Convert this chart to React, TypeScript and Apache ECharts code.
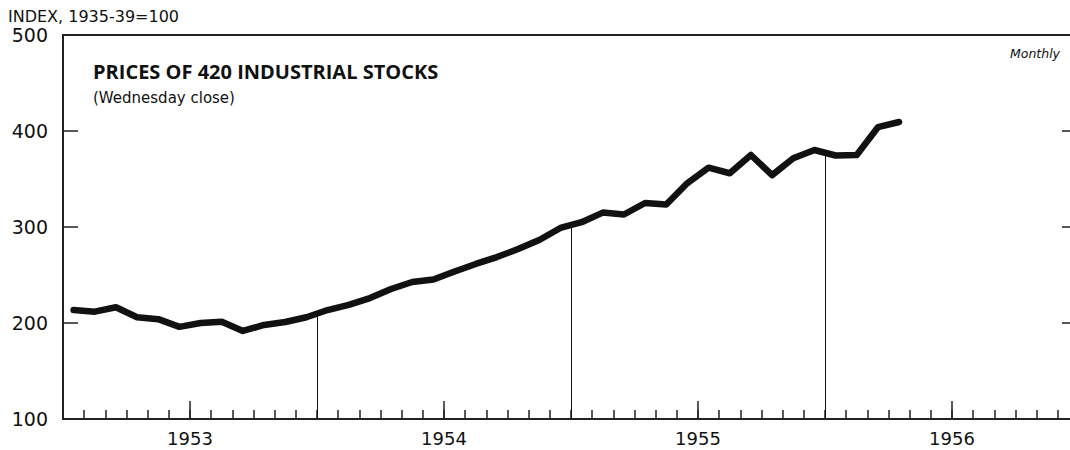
import React, { useEffect, useRef } from "react";
import * as echarts from "echarts";

// Monthly index values, Jan 1953 .. Apr 1956 (1935-39 = 100)
const startYear = 1953;
const values: number[] = [
  213.5, 211.8, 216.4, 206, 204, 196, 200, 201.4, 191.7, 198, 201, 206,
  213.5, 218.8, 226, 235.4, 242.7, 245.3, 253.6, 261.5, 268.7, 277, 286.5, 299,
  305, 315, 313, 325, 323.4, 345.8, 361.8, 356, 375, 354, 371.6, 380.2,
  374.5, 375, 404, 409.4,
];
const yTicks = [100, 200, 300, 400, 500];
const yearLabels = ["1953", "1954", "1955", "1956"];
const titleText = "PRICES OF 420 INDUSTRIAL STOCKS";
const subtitleText = "(Wednesday close)";
const unitText = "INDEX, 1935-39=100";
const freqText = "Monthly";

const FONT = "DejaVu Sans";

export default function App() {
  const ref = useRef<HTMLDivElement>(null);
  useEffect(() => {
    if (!ref.current) return;
    const chart = echarts.init(ref.current, null, { renderer: "svg" });
    const seriesData = values.map((v, i) => [i + 0.5, v]);
    // drop lines at year boundaries, from the axis up to the line
    const dropLines: any[] = [];
    for (let b = 12; b < values.length; b += 12) {
      const v = (values[b - 1] + values[b]) / 2;
      dropLines.push([{ coord: [b, yTicks[0]] }, { coord: [b, v] }]);
    }
    const nMonths = yearLabels.length * 12;
    const midYears = yearLabels.map((_, k) => k * 12 + 6);
    chart.setOption({
      animation: false,
      backgroundColor: "#ffffff",
      grid: {
        left: 63,
        width: 1016,
        top: 35,
        height: 384,
        outerBoundsMode: "none",
        containLabel: false,
        show: true,
        borderColor: "#222",
        borderWidth: 2,
        backgroundColor: "transparent",
      },
      xAxis: [
        {
          type: "value",
          min: 0,
          max: nMonths,
          interval: 1,
          axisLine: { show: true, onZero: false, lineStyle: { color: "#222", width: 2 } },
          axisTick: { show: true, inside: true, length: 9, lineStyle: { color: "#222", width: 1.5 } },
          axisLabel: { show: false },
          splitLine: { show: false },
        },
        {
          type: "value",
          min: 0,
          max: nMonths,
          position: "bottom",
          axisLine: { show: false, onZero: false },
          axisTick: {
            show: true,
            inside: true,
            length: 18,
            customValues: midYears,
            lineStyle: { color: "#222", width: 1.5 },
          },
          axisLabel: {
            show: true,
            customValues: midYears,
            formatter: (v: number) => String(startYear + Math.floor(v / 12)),
            fontFamily: FONT,
            fontSize: 18,
            color: "#111",
            margin: 10,
          },
          splitLine: { show: false },
        },
      ],
      yAxis: [
        {
          type: "value",
          min: 100,
          max: 500,
          interval: 100,
          position: "left",
          axisLine: { show: true, onZero: false, lineStyle: { color: "#222", width: 1.5 } },
          axisTick: { show: true, inside: true, length: 15, lineStyle: { color: "#222", width: 1.5 } },
          axisLabel: { show: true, fontFamily: FONT, fontSize: 19, color: "#111", margin: 15 },
          splitLine: { show: false },
        },
        {
          type: "value",
          min: 100,
          max: 500,
          interval: 100,
          position: "right",
          axisLine: { show: true, onZero: false, lineStyle: { color: "#222", width: 1.5 } },
          axisTick: { show: true, inside: true, length: 17, lineStyle: { color: "#222", width: 1.5 } },
          axisLabel: { show: false },
          splitLine: { show: false },
        },
      ],
      graphic: [
        {
          type: "text",
          left: 8,
          top: 8,
          style: { text: unitText, fontFamily: FONT, fontSize: 16, fill: "#111" },
        },
        {
          type: "text",
          left: 93,
          top: 61,
          style: { text: titleText, fontFamily: "Open Sans", fontWeight: "bold", fontSize: 20, fill: "#111" },
        },
        {
          type: "text",
          left: 93,
          top: 90,
          style: { text: subtitleText, fontFamily: FONT, fontSize: 15, fill: "#111" },
        },
        {
          type: "text",
          right: 10,
          top: 47,
          style: { text: freqText, fontFamily: FONT, fontStyle: "italic", fontSize: 12.5, fill: "#111" },
        },
      ],
      series: [
        {
          type: "line",
          xAxisIndex: 0,
          yAxisIndex: 0,
          data: seriesData,
          showSymbol: false,
          lineStyle: { color: "#111", width: 6.5, cap: "round", join: "round" },
          markLine: {
            silent: true,
            symbol: ["none", "none"],
            label: { show: false },
            lineStyle: { color: "#111", width: 1, type: "solid" },
            data: dropLines,
          },
          z: 3,
        },
      ],
    });
    return () => chart.dispose();
  }, []);
  return (
    <div
      ref={ref}
      style={{ position: "fixed", left: 0, top: 0, width: 1070, height: 450, background: "#fff" }}
    />
  );
}
